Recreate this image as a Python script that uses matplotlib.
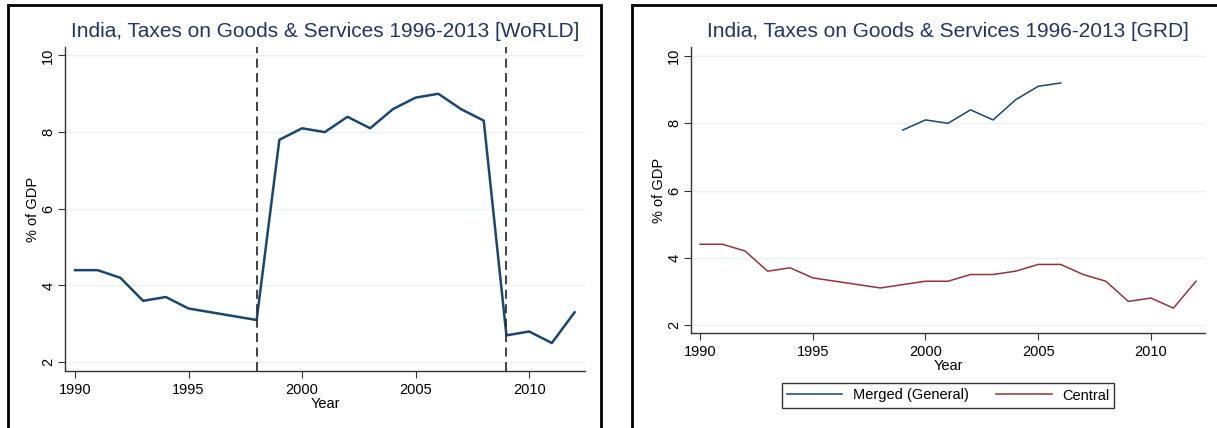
import numpy as np
import matplotlib.pyplot as plt
from matplotlib.patches import Rectangle

plt.rcParams['font.family'] = ['Liberation Sans', 'DejaVu Sans']

years = np.arange(1990, 2013)
world = [4.4, 4.4, 4.2, 3.6, 3.7, 3.4, 3.3, 3.2, 3.1, 7.8, 8.1, 8.0, 8.4, 8.1,
         8.6, 8.9, 9.0, 8.6, 8.3, 2.7, 2.8, 2.5, 3.3]
merged_years = np.arange(1999, 2007)
merged = [7.8, 8.1, 8.0, 8.4, 8.1, 8.7, 9.1, 9.2]
central = [4.4, 4.4, 4.2, 3.6, 3.7, 3.4, 3.3, 3.2, 3.1, 3.2, 3.3, 3.3, 3.5, 3.5,
           3.6, 3.8, 3.8, 3.5, 3.3, 2.7, 2.8, 2.5, 3.3]
breaks = [1998, 2009]

navy = '#1a476f'
maroon = '#90353b'
title_col = '#233560'
W, H = 1217, 428

fig = plt.figure(figsize=(W / 100, H / 100), dpi=100)


def px_axes(x0, x1, ytop, ybot):
    return fig.add_axes([x0 / W, 1 - ybot / H, (x1 - x0) / W, (ybot - ytop) / H])


def style(ax, title):
    ax.set_title(title, color=title_col, fontsize=15, pad=7)
    for s in ['top', 'right']:
        ax.spines[s].set_visible(False)
    for s in ['left', 'bottom']:
        ax.spines[s].set_color('#333333')
        ax.spines[s].set_linewidth(1.0)
    ax.set_yticks([2, 4, 6, 8, 10])
    ax.set_xticks([1990, 1995, 2000, 2005, 2010])
    ax.tick_params(labelsize=10.5, length=5, color='#333333')
    ax.tick_params(axis='y', pad=2)
    for lab in ax.get_yticklabels():
        lab.set_rotation(90)
        lab.set_va('center')
    ax.grid(axis='y', color='#eaf2f3', lw=1)
    ax.set_axisbelow(True)
    ax.set_xlabel('Year', fontsize=10.5, labelpad=0)
    ax.set_ylabel('% of GDP', fontsize=10.5, labelpad=1)


# left panel
ax1 = px_axes(65, 585, 47, 371)
ax1.plot(years, world, color=navy, lw=1.8)
for b in breaks:
    ax1.axvline(b, color='#333333', lw=1.3, ls=(0, (5, 3)))
ax1.set_xlim(1989.56, 2012.46)
ax1.set_ylim(1.77, 10.22)
style(ax1, 'India, Taxes on Goods & Services 1996-2013 [WoRLD]')

# right panel
ax2 = px_axes(691, 1205, 47, 333)
ax2.plot(merged_years, merged, color=navy, lw=1.1, label='Merged (General)')
ax2.plot(years, central, color=maroon, lw=1.1, label='Central')
ax2.set_xlim(1989.6, 2012.4)
ax2.set_ylim(1.76, 10.27)
style(ax2, 'India, Taxes on Goods & Services 1996-2013 [GRD]')
leg = ax2.legend(loc='center', bbox_to_anchor=(948 / W, 1 - 395.5 / H),
                 bbox_transform=fig.transFigure, ncol=2, fontsize=10.5,
                 frameon=True, fancybox=False, edgecolor='black',
                 handlelength=3.8, handletextpad=0.7, columnspacing=1.9,
                 borderpad=0.35)
leg.get_frame().set_linewidth(1.0)

# panel frames
fig.patches.append(Rectangle((8 / W, -0.1), (601 - 8) / W, 1.1 - 5 / H,
                             transform=fig.transFigure, fill=False,
                             edgecolor='black', lw=2))
fig.patches.append(Rectangle((632 / W, -0.1), 1.0, 1.1 - 5 / H,
                             transform=fig.transFigure, fill=False,
                             edgecolor='black', lw=2))

fig.savefig('out.png', dpi=100)
